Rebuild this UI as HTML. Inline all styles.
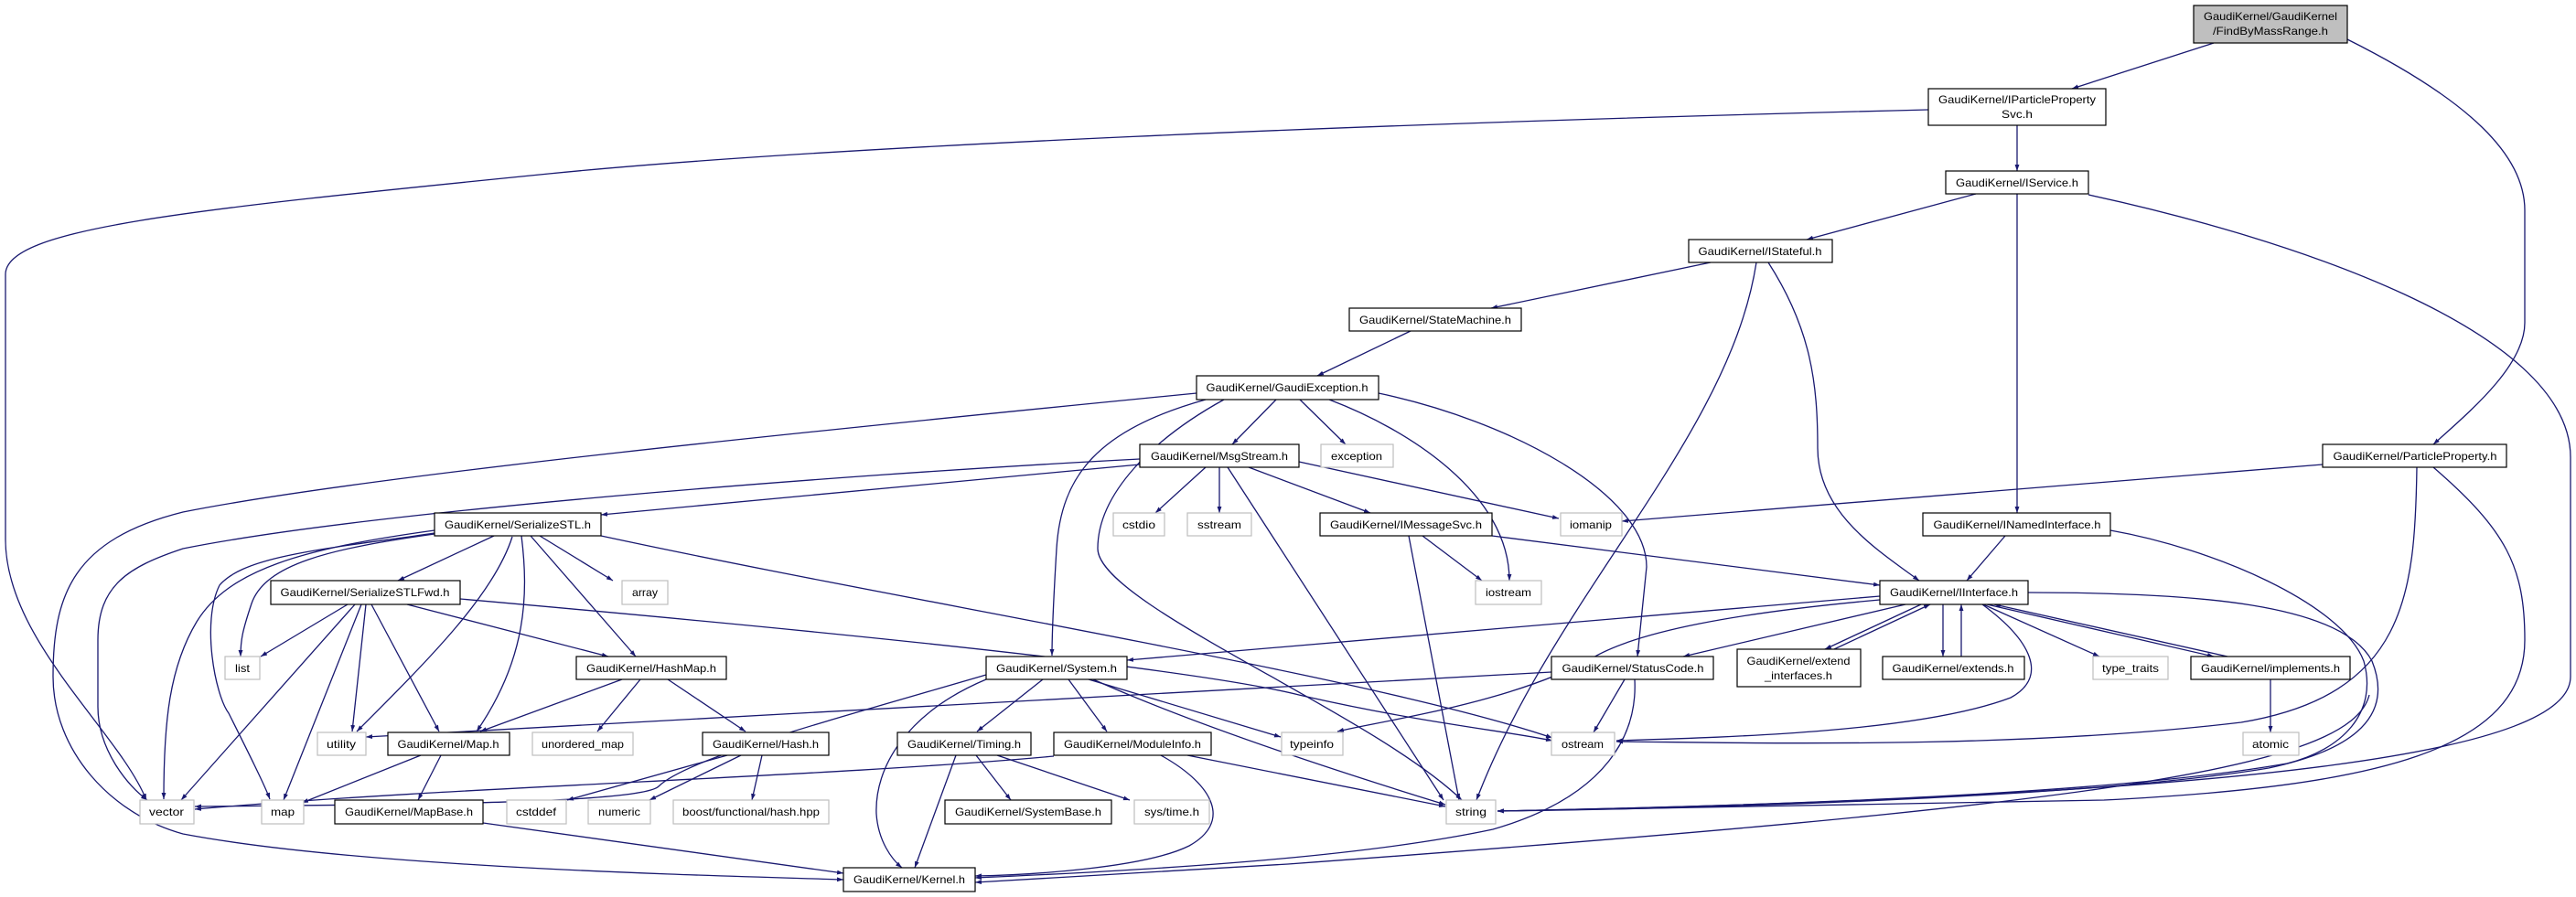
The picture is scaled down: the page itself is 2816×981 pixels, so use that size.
<!DOCTYPE html>
<html><head><meta charset="utf-8"><style>html,body{margin:0;padding:0;background:#fff}svg{display:block}</style></head>
<body>
<svg width="2816" height="981" viewBox="0 0 2816 981" xmlns="http://www.w3.org/2000/svg" font-family="Liberation Sans, sans-serif" font-size="12">
<defs>
<marker id="a" viewBox="0 0 10 10" refX="10" refY="5" markerWidth="7" markerHeight="7" orient="auto" markerUnits="userSpaceOnUse"><path d="M0,1.5 L10,5 L0,8.5 z" fill="#191970"/></marker>
</defs>
<g fill="none" stroke="#191970" stroke-width="1.3" marker-end="url(#a)">
<path d="M2420,47 L2265,97"/>
<path d="M2566,43 C2700,110 2760,170 2760,230 L2760,353 C2760,400 2700,450 2660,486"/>
<path d="M2108,120 C1500,135 900,160 600,190 C200,230 6,250 6,300 L6,590 C6,700 130,800 160,875"/>
<path d="M2205,137 L2205,187"/>
<path d="M2160,212 L1975,262"/>
<path d="M2205,212 L2205,561"/>
<path d="M2283,213 C2500,260 2810,360 2810,500 L2810,740 C2810,820 2500,870 1637,887"/>
<path d="M1870,287 L1630,337"/>
<path d="M1920,287 C1890,480 1700,650 1614,875"/>
<path d="M1933,287 C1980,360 1987,420 1987,490 C1987,560 2050,600 2098,635"/>
<path d="M1542,362 L1440,411"/>
<path d="M2539,508 L1773,570"/>
<path d="M2642,511 C2640,650 2630,760 2450,790 C2200,820 1900,812 1767,811"/>
<path d="M2660,511 C2740,580 2760,620 2760,700 C2760,820 2600,860 2300,875 L1637,887"/>
<path d="M1395,437 L1347,486"/>
<path d="M1308,430 C900,470 400,520 200,560 C80,590 58,650 58,740 C58,820 120,890 200,912 C400,950 800,958 922,962"/>
<path d="M1318,437 C1200,470 1160,520 1155,600 C1152,650 1150,690 1150,717"/>
<path d="M1338,437 C1260,480 1200,540 1200,600 C1200,660 1500,780 1598,875"/>
<path d="M1421,437 L1471,486"/>
<path d="M1453,437 C1540,470 1650,540 1650,635"/>
<path d="M1507,430 C1650,460 1800,540 1800,620 L1790,718"/>
<path d="M1246,502 C900,520 400,560 200,600 C140,620 107,640 107,700 L107,773 C107,820 140,860 161,875"/>
<path d="M1246,508 L657,563"/>
<path d="M1318,511 L1263,561"/>
<path d="M1333,511 L1333,561"/>
<path d="M1365,511 L1498,561"/>
<path d="M1420,505 L1704,567"/>
<path d="M1342,511 L1578,875"/>
<path d="M540,586 L435,635"/>
<path d="M590,586 L670,635"/>
<path d="M580,586 L695,718"/>
<path d="M570,586 C578,650 576,720 521,800"/>
<path d="M560,587 C540,650 470,720 390,800"/>
<path d="M657,586 C1000,660 1500,740 1697,807"/>
<path d="M475,584 C360,600 290,617 275,660 C265,690 263,700 263,718"/>
<path d="M475,580 C330,600 250,623 215,680 C185,730 179,790 179,874"/>
<path d="M475,583 C360,600 268,607 240,640 C220,680 235,760 250,780 C270,820 290,860 295,874"/>
<path d="M380,661 L285,718"/>
<path d="M388,661 L198,875"/>
<path d="M395,661 L310,875"/>
<path d="M400,661 L385,800"/>
<path d="M406,661 L480,800"/>
<path d="M445,661 L665,718"/>
<path d="M503,655 C900,690 1300,730 1420,760 C1550,790 1650,800 1697,810"/>
<path d="M680,743 L525,800"/>
<path d="M700,743 L653,800"/>
<path d="M730,743 L815,800"/>
<path d="M1078,738 C900,790 750,830 720,860 C700,880 400,880 213,882"/>
<path d="M1140,743 L1068,800"/>
<path d="M1168,743 L1210,800"/>
<path d="M1190,743 L1400,806"/>
<path d="M1195,743 C1300,790 1450,840 1580,880"/>
<path d="M1078,743 C990,780 956,840 958,890 C960,920 975,940 986,949"/>
<path d="M1045,826 L1000,949"/>
<path d="M1067,826 L1105,875"/>
<path d="M1090,826 L1235,875"/>
<path d="M1152,827 C900,850 500,860 213,885"/>
<path d="M1298,826 L1580,882"/>
<path d="M1269,826 C1330,860 1345,900 1300,925 C1250,950 1120,957 1066,958"/>
<path d="M795,826 L620,875"/>
<path d="M810,826 L710,875"/>
<path d="M833,826 L822,875"/>
<path d="M460,826 L330,878"/>
<path d="M482,826 L457,875"/>
<path d="M528,900 L922,955"/>
<path d="M1555,586 L1620,635"/>
<path d="M1540,586 L1595,875"/>
<path d="M1631,586 L2055,640"/>
<path d="M2192,586 L2150,635"/>
<path d="M2307,580 C2420,600 2560,660 2584,723 C2600,780 2560,820 2500,835 C2300,870 1900,882 1637,887"/>
<path d="M2055,652 L1232,722"/>
<path d="M2055,656 C1900,670 1790,690 1740,720 C1650,770 1500,790 1462,800"/>
<path d="M2083,661 L1840,718"/>
<path d="M2100,661 L1995,710"/>
<path d="M2005,710 L2110,661"/>
<path d="M2124,661 L2124,718"/>
<path d="M2144,718 L2144,661"/>
<path d="M2168,661 L2295,718"/>
<path d="M2172,661 L2420,718"/>
<path d="M2435,718 L2180,661"/>
<path d="M2167,661 C2220,700 2240,740 2198,763 C2100,800 1900,806 1767,810"/>
<path d="M2217,648 C2400,648 2560,660 2593,723 C2620,790 2560,823 2480,840 C2300,870 1900,884 1637,887"/>
<path d="M1776,743 L1742,801"/>
<path d="M1696,735 L400,806"/>
<path d="M1787,743 C1790,800 1760,870 1632,907 C1500,935 1300,950 1066,960"/>
<path d="M2590,760 C2570,840 2300,880 1408,945 L1066,965"/>
<path d="M2482,743 L2482,801"/>
</g>
<g stroke-width="1.2">
<rect x="2398" y="6" width="168" height="41" fill="#bfbfbf" stroke="#000"/>
<g fill="#fff" stroke="#000">
<rect x="2108" y="97" width="194" height="40"/>
<rect x="2127" y="187" width="156" height="25"/>
<rect x="1846" y="262" width="157" height="25"/>
<rect x="1475" y="337" width="188" height="25"/>
<rect x="1308" y="411" width="199" height="26"/>
<rect x="2539" y="486" width="201" height="25"/>
<rect x="1246" y="486" width="174" height="25"/>
<rect x="475" y="561" width="182" height="25"/>
<rect x="296" y="635" width="207" height="26"/>
<rect x="630" y="718" width="164" height="25"/>
<rect x="1078" y="718" width="154" height="25"/>
<rect x="424" y="801" width="133" height="25"/>
<rect x="768" y="801" width="138" height="25"/>
<rect x="981" y="801" width="146" height="25"/>
<rect x="1152" y="801" width="172" height="25"/>
<rect x="366" y="875" width="162" height="26"/>
<rect x="1033" y="875" width="182" height="26"/>
<rect x="922" y="949" width="144" height="26"/>
<rect x="1443" y="561" width="188" height="25"/>
<rect x="2102" y="561" width="205" height="25"/>
<rect x="2055" y="635" width="162" height="26"/>
<rect x="1696" y="718" width="177" height="25"/>
<rect x="1899" y="710" width="135" height="41"/>
<rect x="2058" y="718" width="155" height="25"/>
<rect x="2395" y="718" width="174" height="25"/>
</g>
<g fill="#fff" stroke="#bfbfbf">
<rect x="1217" y="561" width="56" height="25"/>
<rect x="1298" y="561" width="70" height="25"/>
<rect x="680" y="635" width="50" height="26"/>
<rect x="246" y="718" width="38" height="25"/>
<rect x="347" y="801" width="53" height="25"/>
<rect x="582" y="801" width="110" height="25"/>
<rect x="153" y="875" width="59" height="26"/>
<rect x="286" y="875" width="46" height="26"/>
<rect x="554" y="875" width="65" height="26"/>
<rect x="643" y="875" width="68" height="26"/>
<rect x="736" y="875" width="170" height="26"/>
<rect x="1240" y="875" width="82" height="26"/>
<rect x="1444" y="486" width="79" height="25"/>
<rect x="1706" y="561" width="67" height="25"/>
<rect x="1613" y="635" width="72" height="26"/>
<rect x="2288" y="718" width="82" height="25"/>
<rect x="1401" y="801" width="67" height="25"/>
<rect x="1696" y="801" width="69" height="25"/>
<rect x="2452" y="801" width="61" height="25"/>
<rect x="1581" y="875" width="54" height="26"/>
</g>
</g>
<g fill="#000" text-anchor="middle">
<text x="2482" y="22" textLength="146" lengthAdjust="spacingAndGlyphs">GaudiKernel/GaudiKernel</text>
<text x="2482" y="38" textLength="126" lengthAdjust="spacingAndGlyphs">/FindByMassRange.h</text>
<text x="2205" y="113" textLength="172" lengthAdjust="spacingAndGlyphs">GaudiKernel/IParticleProperty</text>
<text x="2205" y="129" textLength="34" lengthAdjust="spacingAndGlyphs">Svc.h</text>
<text x="2205" y="204" textLength="134" lengthAdjust="spacingAndGlyphs">GaudiKernel/IService.h</text>
<text x="1924" y="279" textLength="135" lengthAdjust="spacingAndGlyphs">GaudiKernel/IStateful.h</text>
<text x="1569" y="354" textLength="166" lengthAdjust="spacingAndGlyphs">GaudiKernel/StateMachine.h</text>
<text x="1407" y="428" textLength="177" lengthAdjust="spacingAndGlyphs">GaudiKernel/GaudiException.h</text>
<text x="2640" y="503" textLength="179" lengthAdjust="spacingAndGlyphs">GaudiKernel/ParticleProperty.h</text>
<text x="1333" y="503" textLength="150" lengthAdjust="spacingAndGlyphs">GaudiKernel/MsgStream.h</text>
<text x="566" y="578" textLength="160" lengthAdjust="spacingAndGlyphs">GaudiKernel/SerializeSTL.h</text>
<text x="399" y="652" textLength="185" lengthAdjust="spacingAndGlyphs">GaudiKernel/SerializeSTLFwd.h</text>
<text x="712" y="735" textLength="142" lengthAdjust="spacingAndGlyphs">GaudiKernel/HashMap.h</text>
<text x="1155" y="735" textLength="132" lengthAdjust="spacingAndGlyphs">GaudiKernel/System.h</text>
<text x="490" y="818" textLength="111" lengthAdjust="spacingAndGlyphs">GaudiKernel/Map.h</text>
<text x="837" y="818" textLength="116" lengthAdjust="spacingAndGlyphs">GaudiKernel/Hash.h</text>
<text x="1054" y="818" textLength="124" lengthAdjust="spacingAndGlyphs">GaudiKernel/Timing.h</text>
<text x="1238" y="818" textLength="150" lengthAdjust="spacingAndGlyphs">GaudiKernel/ModuleInfo.h</text>
<text x="447" y="892" textLength="140" lengthAdjust="spacingAndGlyphs">GaudiKernel/MapBase.h</text>
<text x="1124" y="892" textLength="160" lengthAdjust="spacingAndGlyphs">GaudiKernel/SystemBase.h</text>
<text x="994" y="966" textLength="122" lengthAdjust="spacingAndGlyphs">GaudiKernel/Kernel.h</text>
<text x="1537" y="578" textLength="166" lengthAdjust="spacingAndGlyphs">GaudiKernel/IMessageSvc.h</text>
<text x="2205" y="578" textLength="183" lengthAdjust="spacingAndGlyphs">GaudiKernel/INamedInterface.h</text>
<text x="2136" y="652" textLength="140" lengthAdjust="spacingAndGlyphs">GaudiKernel/IInterface.h</text>
<text x="1785" y="735" textLength="155" lengthAdjust="spacingAndGlyphs">GaudiKernel/StatusCode.h</text>
<text x="1966" y="727" textLength="113" lengthAdjust="spacingAndGlyphs">GaudiKernel/extend</text>
<text x="1966" y="743" textLength="74" lengthAdjust="spacingAndGlyphs">_interfaces.h</text>
<text x="2135" y="735" textLength="133" lengthAdjust="spacingAndGlyphs">GaudiKernel/extends.h</text>
<text x="2482" y="735" textLength="152" lengthAdjust="spacingAndGlyphs">GaudiKernel/implements.h</text>
<text x="1245" y="578" textLength="36" lengthAdjust="spacingAndGlyphs">cstdio</text>
<text x="1333" y="578" textLength="48" lengthAdjust="spacingAndGlyphs">sstream</text>
<text x="705" y="652" textLength="28" lengthAdjust="spacingAndGlyphs">array</text>
<text x="265" y="735" textLength="16" lengthAdjust="spacingAndGlyphs">list</text>
<text x="373" y="818" textLength="32" lengthAdjust="spacingAndGlyphs">utility</text>
<text x="637" y="818" textLength="90" lengthAdjust="spacingAndGlyphs">unordered_map</text>
<text x="182" y="892" textLength="38" lengthAdjust="spacingAndGlyphs">vector</text>
<text x="309" y="892" textLength="26" lengthAdjust="spacingAndGlyphs">map</text>
<text x="586" y="892" textLength="44" lengthAdjust="spacingAndGlyphs">cstddef</text>
<text x="677" y="892" textLength="46" lengthAdjust="spacingAndGlyphs">numeric</text>
<text x="821" y="892" textLength="150" lengthAdjust="spacingAndGlyphs">boost/functional/hash.hpp</text>
<text x="1281" y="892" textLength="60" lengthAdjust="spacingAndGlyphs">sys/time.h</text>
<text x="1483" y="503" textLength="56" lengthAdjust="spacingAndGlyphs">exception</text>
<text x="1739" y="578" textLength="46" lengthAdjust="spacingAndGlyphs">iomanip</text>
<text x="1649" y="652" textLength="50" lengthAdjust="spacingAndGlyphs">iostream</text>
<text x="2329" y="735" textLength="62" lengthAdjust="spacingAndGlyphs">type_traits</text>
<text x="1434" y="818" textLength="48" lengthAdjust="spacingAndGlyphs">typeinfo</text>
<text x="1730" y="818" textLength="46" lengthAdjust="spacingAndGlyphs">ostream</text>
<text x="2482" y="818" textLength="40" lengthAdjust="spacingAndGlyphs">atomic</text>
<text x="1608" y="892" textLength="34" lengthAdjust="spacingAndGlyphs">string</text>
</g>
</svg>
</body></html>
